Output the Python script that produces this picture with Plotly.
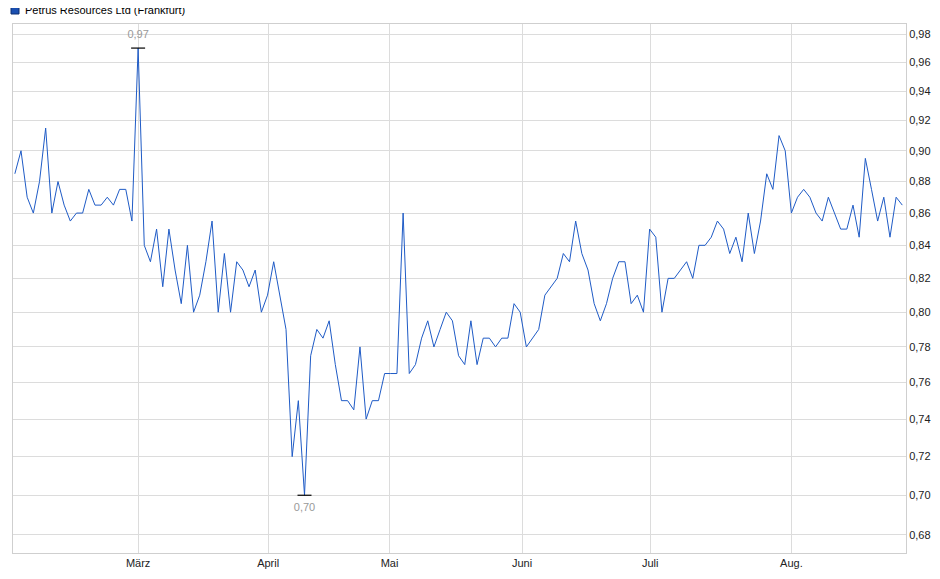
import plotly.graph_objects as go

# closing prices, one per trading day (Feb - Aug)
prices = [
    0.885, 0.90, 0.87, 0.86, 0.88, 0.915, 0.86, 0.88, 0.865, 0.855,
    0.86, 0.86, 0.875, 0.865, 0.865, 0.87, 0.865, 0.875, 0.875, 0.855,
    0.97, 0.84, 0.83, 0.85, 0.815, 0.85, 0.825, 0.805, 0.84, 0.80,
    0.81, 0.83, 0.855, 0.80, 0.835, 0.80, 0.83, 0.825, 0.815, 0.825,
    0.80, 0.81, 0.83, 0.81, 0.79, 0.72, 0.75, 0.70, 0.775, 0.79,
    0.785, 0.795, 0.77, 0.75, 0.75, 0.745, 0.78, 0.74, 0.75, 0.75,
    0.765, 0.765, 0.765, 0.86, 0.765, 0.77, 0.785, 0.795, 0.78, 0.79,
    0.80, 0.795, 0.775, 0.77, 0.795, 0.77, 0.785, 0.785, 0.78, 0.785,
    0.785, 0.805, 0.80, 0.78, 0.785, 0.79, 0.81, 0.815, 0.82, 0.835,
    0.83, 0.855, 0.835, 0.825, 0.805, 0.795, 0.805, 0.82, 0.83, 0.83,
    0.805, 0.81, 0.80, 0.85, 0.845, 0.80, 0.82, 0.82, 0.825, 0.83,
    0.82, 0.84, 0.84, 0.845, 0.855, 0.85, 0.835, 0.845, 0.83, 0.86,
    0.835, 0.855, 0.885, 0.875, 0.91, 0.90, 0.86, 0.87, 0.875, 0.87,
    0.86, 0.855, 0.87, 0.86, 0.85, 0.85, 0.865, 0.845, 0.895, 0.875,
    0.855, 0.87, 0.845, 0.87, 0.865,
]
month_labels = ["März", "April", "Mai", "Juni", "Juli", "Aug."]
month_pos = [20, 41.1, 60.8, 82.3, 103.1, 126.0]
y_ticks = [0.68, 0.70, 0.72, 0.74, 0.76, 0.78, 0.80, 0.82, 0.84, 0.86,
           0.88, 0.90, 0.92, 0.94, 0.96, 0.98]
series_name = "Petrus Resources Ltd (Frankfurt)"

blue = "#1f5bc6"
x = list(range(len(prices)))
i_max = prices.index(max(prices))
i_min = prices.index(min(prices))

fig = go.Figure()
fig.add_trace(go.Scatter(x=x, y=prices, mode="lines", line=dict(color=blue, width=1),
                         showlegend=False, hoverinfo="skip"))
# high / low markers
fig.add_trace(go.Scatter(x=[i_max, i_min], y=[max(prices), min(prices)], mode="markers+text",
                         marker=dict(symbol="line-ew", size=10, line=dict(color="black", width=1.2)),
                         text=[f"{max(prices):.2f}".replace(".", ","), f"{min(prices):.2f}".replace(".", ",")],
                         textposition=["top center", "bottom center"],
                         textfont=dict(color="#999999", size=11),
                         showlegend=False, hoverinfo="skip"))

# legend drawn by hand (pixel -> paper coords: plot 893 x 529 px)
W, H = 893, 529
fig.add_shape(type="rect", xref="paper", yref="paper",
              x0=-2 / W, x1=6 / W, y0=(529 + 10) / H, y1=(529 + 18) / H,
              fillcolor="#1a4fb0", line=dict(color="#0d2f70", width=1))
fig.add_annotation(xref="paper", yref="paper", x=10 / W, y=(529 + 14) / H,
                   xanchor="left", yanchor="middle", showarrow=False,
                   text=series_name, font=dict(size=11, color="black"))

fig.update_layout(
    width=940, height=579,
    margin=dict(l=5, r=42, t=16, b=34, autoexpand=False),
    paper_bgcolor="white", plot_bgcolor="white",
    font=dict(family="Liberation Sans, Arial", size=11, color="#222"),
    separators=",.",
    showlegend=False,
)
fig.update_xaxes(range=[-0.3, 144.6], tickvals=month_pos, ticktext=month_labels,
                 showgrid=True, gridcolor="#dcdcdc", zeroline=False,
                 showline=True, linecolor="#cfcfcf", mirror=True, ticks="")
fig.update_yaxes(type="log", range=[-0.1732, -0.0056], tickvals=y_ticks, tickformat=".2f",
                 side="right", showgrid=True, gridcolor="#dcdcdc", zeroline=False,
                 showline=True, linecolor="#cfcfcf", mirror=True, ticks="")

fig.write_html("out.html")
